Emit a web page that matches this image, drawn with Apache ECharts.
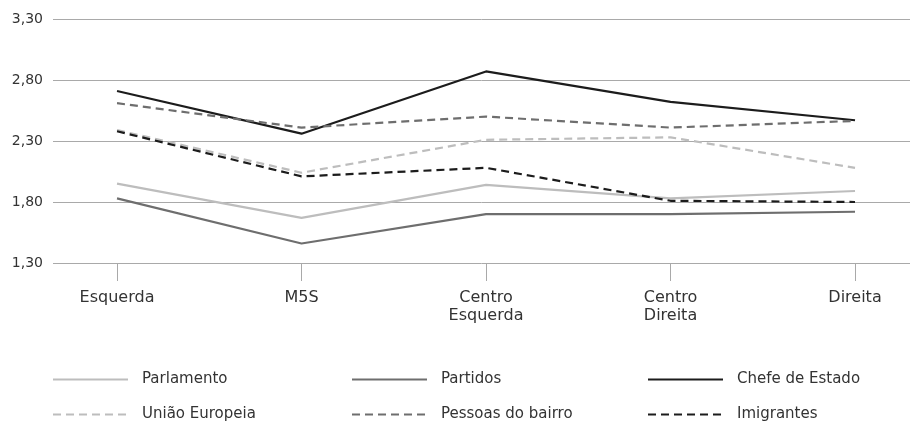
<!DOCTYPE html>
<html>
<head>
<meta charset="utf-8">
<title>Confiança por orientação política</title>
<script src="https://cdn.jsdelivr.net/npm/echarts@6/dist/echarts.min.js"></script>
<style>
    html, body {margin: 0; padding: 0; background: #fff;}
    #chart {width: 910px; height: 422px;}
</style>
</head>
<body>
<div id="chart"></div>
<script>
// ------------------ data ------------------
const categories = ['Esquerda', 'M5S', 'Centro\nEsquerda', 'Centro\nDireita', 'Direita'];
const yTicks = [1.3, 1.8, 2.3, 2.8, 3.3];

const parlamento = [1.95, 1.67, 1.94, 1.83, 1.89];
const partidos = [1.83, 1.46, 1.70, 1.70, 1.72];
const chefeEstado = [2.71, 2.36, 2.87, 2.62, 2.47];
const uniaoEuropeia = [2.39, 2.04, 2.31, 2.33, 2.08];
const pessoasBairro = [2.61, 2.41, 2.50, 2.41, 2.465];
const imigrantes = [2.38, 2.01, 2.08, 1.81, 1.80];

const FONT = 'DejaVu Sans';
const TEXT_COLOR = '#333';
const GRID_COLOR = '#a9a9a9';

// category index -> [x, y] so the value axis can leave room on both sides
function toPoints(values) {
    return values.map(function (v, i) {
        return [i, v];
    });
}

function lineSeries(name, values, color, dashed) {
    return {
        name: name,
        type: 'line',
        data: toPoints(values),
        symbol: 'none',
        showSymbol: false,
        smooth: false,
        color: color,
        lineStyle: {
            color: color,
            width: 2.2,
            type: dashed ? [8, 5] : 'solid'
        },
        emphasis: {disabled: true}
    };
}

// one legend per column, two rows each
function legendColumn(left, names) {
    return {
        orient: 'vertical',
        left: left,
        top: 372,
        height: 50,
        padding: 0,
        itemWidth: 75,
        itemHeight: 14,
        itemGap: 20,
        data: names,
        itemStyle: {opacity: 0},
        textStyle: {
            fontFamily: FONT,
            fontSize: 15,
            color: TEXT_COLOR,
            padding: [0, 0, 0, 9]
        }
    };
}

let myChart = echarts.init(document.getElementById('chart'), null, {renderer: 'canvas'});

let option = {
    animation: false,
    backgroundColor: '#fff',
    grid: {
        left: 53,
        right: 0,
        top: 19,
        bottom: 159,
        containLabel: false
    },
    xAxis: {
        type: 'value',
        min: -0.347,
        max: 4.298,
        axisLine: {show: false},
        splitLine: {show: false},
        axisTick: {
            show: true,
            customValues: [0, 1, 2, 3, 4],
            length: 18,
            lineStyle: {color: GRID_COLOR, width: 1}
        },
        axisLabel: {
            show: true,
            customValues: [0, 1, 2, 3, 4],
            margin: 26,
            fontFamily: FONT,
            fontSize: 16,
            lineHeight: 18,
            color: TEXT_COLOR,
            formatter: function (v) {
                return categories[Math.round(v)];
            }
        }
    },
    yAxis: {
        type: 'value',
        min: yTicks[0],
        max: yTicks[yTicks.length - 1],
        interval: 0.5,
        axisLine: {show: false},
        axisTick: {show: false},
        splitLine: {lineStyle: {color: GRID_COLOR, width: 1}},
        axisLabel: {
            margin: 10,
            fontFamily: FONT,
            fontSize: 14,
            color: TEXT_COLOR,
            formatter: function (v) {
                return v.toFixed(2).replace('.', ',');
            }
        }
    },
    legend: [
        legendColumn(52, ['Parlamento', 'União Europeia']),
        legendColumn(351, ['Partidos', 'Pessoas do bairro']),
        legendColumn(647, ['Chefe de Estado', 'Imigrantes'])
    ],
    series: [
        lineSeries('Parlamento', parlamento, '#bdbdbd', false),
        lineSeries('Partidos', partidos, '#6e6e6e', false),
        lineSeries('Chefe de Estado', chefeEstado, '#1c1c1c', false),
        lineSeries('União Europeia', uniaoEuropeia, '#bdbdbd', true),
        lineSeries('Pessoas do bairro', pessoasBairro, '#6e6e6e', true),
        lineSeries('Imigrantes', imigrantes, '#1c1c1c', true)
    ]
};

if (option && typeof option === "object") {
    myChart.setOption(option, true);
}
</script>
</body>
</html>
